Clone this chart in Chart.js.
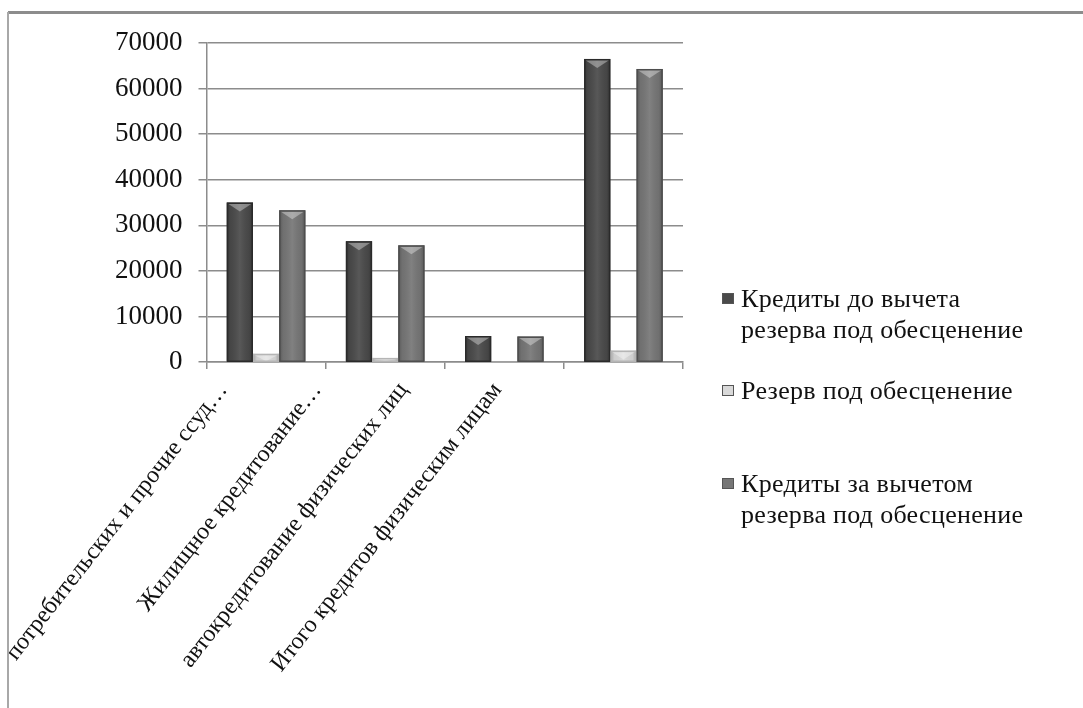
<!DOCTYPE html>
<html>
<head>
<meta charset="utf-8">
<script src="https://cdn.jsdelivr.net/npm/chart.js@4/dist/chart.umd.min.js"></script>
<style>
  html, body { margin: 0; padding: 0; background: #fff; }
  #wrap { position: relative; width: 1083px; height: 708px; overflow: hidden; }
  #c { position: absolute; left: 0; top: 0; }
  #topBorder { position: absolute; left: 8px; top: 11px; width: 1075px; height: 3px; background: #8c8c8c; }
  #leftBorder { position: absolute; left: 7px; top: 12px; width: 2px; height: 696px; background: #a8a8a8; }
  #legend { position: absolute; left: 722px; top: 0; font-family: "Liberation Serif", "Times New Roman", serif; font-size: 26px; color: #111; }
  .item { position: absolute; left: 0; white-space: nowrap; }
  .mk { position: absolute; left: 0; width: 12px; height: 11px; border: 1px solid #555; box-sizing: border-box; }
  .tx { position: absolute; left: 19px; line-height: 31px; letter-spacing: 0.3px; }
</style>
</head>
<body>
<div id="wrap">
  <canvas id="c" width="1083" height="708"></canvas>
  <div id="topBorder"></div>
  <div id="leftBorder"></div>
  <div id="legend"></div>
</div>
<script>
// ---- data ----
const categories = [
  "потребительских и прочие ссуд…",
  "Жилищное кредитование…",
  "автокредитование физических лиц",
  "Итого кредитов физическим лицам"
];
const seriesNames = [
  "Кредиты до вычета резерва под обесценение",
  "Резерв под обесценение",
  "Кредиты за вычетом резерва под обесценение"
];
const legendLines = [
  ["Кредиты до вычета", "резерва под обесценение"],
  ["Резерв под обесценение"],
  ["Кредиты за вычетом", "резерва под обесценение"]
];
const grossLoans = [35000, 26500, 5700, 66500];
const reserve = [1800, 900, 200, 2500];
const netLoans = [33300, 25600, 5600, 64300];
const yTicks = [0, 10000, 20000, 30000, 40000, 50000, 60000, 70000];

const seriesColors = ["#4a4a4a", "#d9d9d9", "#767676"];
const seriesEdge = ["#2a2a2a", "#b5b5b5", "#4e4e4e"];
const serif = '"Liberation Serif", "Times New Roman", serif';
// horizontal shift of each rotated category label (px), as in the reference
const labelShift = [-43, -68, -101, -126];

const bevelPlugin = {
  id: 'bevel',
  afterDatasetsDraw(chart) {
    const ctx = chart.ctx;
    chart.data.datasets.forEach((ds, di) => {
      const meta = chart.getDatasetMeta(di);
      meta.data.forEach(el => {
        const w = el.width, left = el.x - w / 2, right = el.x + w / 2;
        const top = Math.min(el.y, el.base), bottom = Math.max(el.y, el.base);
        const h = bottom - top;
        if (h < 1) return;
        ctx.save();
        const g = ctx.createLinearGradient(left, 0, right, 0);
        g.addColorStop(0, 'rgba(0,0,0,0.25)');
        g.addColorStop(0.15, 'rgba(0,0,0,0.05)');
        g.addColorStop(0.5, 'rgba(255,255,255,0.08)');
        g.addColorStop(0.85, 'rgba(0,0,0,0.05)');
        g.addColorStop(1, 'rgba(0,0,0,0.25)');
        ctx.fillStyle = g;
        ctx.fillRect(left, top, w, h);
        const d = Math.min(h, 9);
        ctx.beginPath();
        ctx.moveTo(left + 1, top + 1);
        ctx.lineTo(right - 1, top + 1);
        ctx.lineTo(el.x, top + d);
        ctx.closePath();
        ctx.fillStyle = 'rgba(255,255,255,0.35)';
        ctx.fill();
        ctx.strokeStyle = seriesEdge[di];
        ctx.lineWidth = 1.5;
        ctx.strokeRect(left + 0.75, top + 0.75, w - 1.5, h - 0.75);
        ctx.restore();
      });
    });
  }
};

const shifted = new WeakSet();
const labelShiftPlugin = {
  id: 'labelShift',
  beforeDraw(chart) {
    const sc = chart.scales.x;
    const items = sc.getLabelItems(chart.chartArea);
    if (shifted.has(items)) return;
    items.forEach((it, i) => {
      const t = it.options.translation;
      it.options.translation = [t[0] + (labelShift[i] || 0), t[1]];
    });
    shifted.add(items);
  }
};

const chart = new Chart(document.getElementById('c'), {
  type: 'bar',
  data: {
    labels: categories,
    datasets: [
      { label: seriesNames[0], data: grossLoans, backgroundColor: seriesColors[0] },
      { label: seriesNames[1], data: reserve, backgroundColor: seriesColors[1] },
      { label: seriesNames[2], data: netLoans, backgroundColor: seriesColors[2] }
    ]
  },
  options: {
    responsive: false,
    animation: false,
    devicePixelRatio: 1,
    layout: { padding: { left: 99, right: 400, top: 43, bottom: 27 } },
    datasets: { bar: { categoryPercentage: 0.66, barPercentage: 1.0, borderWidth: 0 } },
    plugins: { legend: { display: false }, tooltip: { enabled: false } },
    scales: {
      x: {
        grid: { display: true, drawOnChartArea: false, drawTicks: true, tickLength: 7, offset: true, color: '#8c8c8c', lineWidth: 1.5 },
        border: { display: true, color: '#8c8c8c', width: 1.5 },
        ticks: {
          font: { family: serif, size: 24 }, color: '#111',
          minRotation: 52, maxRotation: 52, autoSkip: false, padding: 8
        }
      },
      y: {
        min: 0, max: 70000,
        afterBuildTicks(scale) { scale.ticks = yTicks.map(v => ({ value: v })); },
        grid: { color: '#8c8c8c', lineWidth: 1.5, tickLength: 8 },
        border: { display: true, color: '#8c8c8c', width: 1.5 },
        ticks: { font: { family: serif, size: 27 }, color: '#111', padding: 16, callback: v => String(v) }
      }
    }
  },
  plugins: [bevelPlugin, labelShiftPlugin]
});

const legendEl = document.getElementById('legend');
const itemTops = [283, 375, 468];
legendLines.forEach((lines, i) => {
  const it = document.createElement('div');
  it.className = 'item';
  it.style.top = itemTops[i] + 'px';
  const mk = document.createElement('div');
  mk.className = 'mk';
  mk.style.top = '10px';
  mk.style.background = seriesColors[i];
  const tx = document.createElement('div');
  tx.className = 'tx';
  tx.innerHTML = lines.join('<br>');
  it.appendChild(mk); it.appendChild(tx);
  legendEl.appendChild(it);
});
</script>
</body>
</html>
